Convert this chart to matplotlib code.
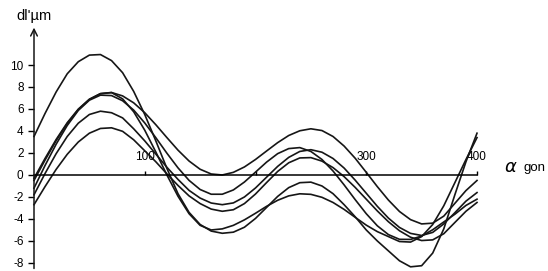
import matplotlib.pyplot as plt

# angle in gon, one reading every 10 gon
ALPHA = [0, 10, 20, 30, 40, 50, 60, 70, 80, 90,
         100, 110, 120, 130, 140, 150, 160, 170, 180, 190,
         200, 210, 220, 230, 240, 250, 260, 270, 280, 290,
         300, 310, 320, 330, 340, 350, 360, 370, 380, 390, 400]

# dl' in micrometres
CURVE_1 = [3.5, 5.6, 7.55, 9.2, 10.3, 10.9, 10.95, 10.4, 9.3, 7.6,
           5.5, 3.1, 0.6, -1.7, -3.4, -4.5, -5.1, -5.3, -5.2, -4.75,
           -3.95, -2.95, -1.95, -1.15, -0.7, -0.65, -1.0, -1.7, -2.7, -3.8,
           -5.0, -6.0, -6.9, -7.8, -8.35, -8.25, -7.1, -4.9, -1.8, 1.2, 3.8]
CURVE_2 = [-0.5, 1.36, 3.12, 4.68, 5.95, 6.87, 7.39, 7.49, 6.92, 5.75,
           4.07, 2.09, 0.0, -1.93, -3.52, -4.58, -5.0, -4.9, -4.58, -4.08,
           -3.48, -2.85, -2.3, -1.9, -1.71, -1.76, -2.03, -2.5, -3.13, -3.85,
           -4.56, -5.15, -5.6, -6.05, -6.1, -5.6, -4.5, -2.8, -0.7, 1.4, 3.4]
CURVE_3 = [-0.3, 1.51, 3.23, 4.75, 5.99, 6.89, 7.4, 7.5, 7.19, 6.56,
           5.66, 4.57, 3.4, 2.26, 1.27, 0.52, 0.09, 0.0, 0.24, 0.73,
           1.41, 2.18, 2.94, 3.59, 4.02, 4.2, 4.04, 3.5, 2.63, 1.52,
           0.24, -1.06, -2.28, -3.32, -4.06, -4.45, -4.38, -3.74, -2.58, -1.42, -0.5]
CURVE_4 = [-1.2, 0.87, 2.8, 4.5, 5.87, 6.8, 7.26, 7.22, 6.75, 5.9,
           4.73, 3.39, 1.98, 0.65, -0.49, -1.32, -1.75, -1.75, -1.36, -0.64,
           0.26, 1.17, 1.94, 2.4, 2.49, 2.14, 1.41, 0.36, -0.9, -2.24,
           -3.52, -4.62, -5.42, -5.85, -5.86, -5.55, -4.98, -4.27, -3.57, -2.77, -2.2]
CURVE_5 = [-1.8, 0.14, 1.94, 3.5, 4.71, 5.5, 5.8, 5.66, 5.19, 4.2,
           3.1, 1.9, 0.7, -0.4, -1.4, -2.1, -2.55, -2.7, -2.54, -2.0,
           -1.18, -0.2, 0.78, 1.6, 2.14, 2.3, 2.07, 1.5, 0.63, -0.47,
           -1.66, -2.85, -3.92, -4.77, -5.31, -5.5, -5.22, -4.45, -3.43, -2.38, -1.6]
CURVE_6 = [-2.7, -1.05, 0.51, 1.88, 3.0, 3.8, 4.23, 4.29, 3.97, 3.2,
           2.2, 1.2, 0.1, -0.95, -1.9, -2.6, -3.1, -3.3, -3.16, -2.6,
           -1.73, -0.69, 0.32, 1.11, 1.55, 1.58, 1.26, 0.67, -0.15, -1.13,
           -2.2, -3.27, -4.25, -5.07, -5.66, -5.96, -5.9, -5.34, -4.32, -3.3, -2.5]

Y_TICKS = [-8, -6, -4, -2, 0, 2, 4, 6, 8, 10]
Y_TICK_LABELS = ["-8", "-6", "-4", "-2", "0", "2", "4", "6", "8", "10"]
X_TICKS = [100, 200, 300, 400]
X_TICK_LABELS = ["100", "", "300", "400"]

plt.rcParams.update({
    "font.family": ["Liberation Sans", "DejaVu Sans"],
    "font.size": 8.5,
})

fig = plt.figure(figsize=(5.48, 2.71), dpi=100)
ax = fig.add_axes([0, 0, 1, 1])
ax.set_xlim(-30.7, 464.1)
ax.set_ylim(-8.73, 15.91)

for curve in [CURVE_1, CURVE_2, CURVE_3, CURVE_4, CURVE_5, CURVE_6]:
    ax.plot(ALPHA, curve, color="#161616", lw=1.2, solid_joinstyle="round")

# axes crossing at the origin
ax.spines["left"].set_position(("data", 0))
ax.spines["bottom"].set_position(("data", 0))
ax.spines["left"].set_visible(False)
ax.spines["right"].set_visible(False)
ax.spines["top"].set_visible(False)
ax.spines["bottom"].set_bounds(0, 400)
ax.spines["bottom"].set_linewidth(1.1)

ax.annotate("", xy=(0, 13.4), xytext=(0, -8.5),
            arrowprops=dict(arrowstyle="->", lw=1.1, color="#161616",
                            shrinkA=0, shrinkB=0, mutation_scale=12))

ax.set_yticks(Y_TICKS)
ax.set_yticklabels(Y_TICK_LABELS)
ax.tick_params(axis="y", direction="out", length=4.5, width=1, pad=3)

ax.set_xticks(X_TICKS)
ax.set_xticklabels(X_TICK_LABELS)
ax.tick_params(axis="x", direction="in", length=3, width=1, pad=-17)

ax.text(-15.5, 14.5, "dl'µm", ha="left", va="center", fontsize=10.5)
ax.text(424, 0.3, r"$\alpha$", ha="left", va="baseline", fontsize=13)
ax.text(442, 0.4, "gon", ha="left", va="baseline", fontsize=9.5)

fig.savefig("out.png", dpi=100)
